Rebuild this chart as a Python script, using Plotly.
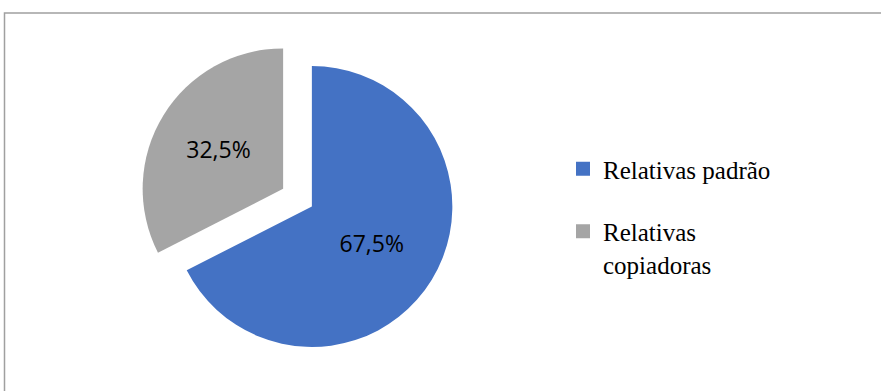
import plotly.graph_objects as go

# Share of relatives by type
labels = ["Relativas padrão", "Relativas<br>copiadoras"]
values = [67.5, 32.5]
colors = ["#4472C4", "#A5A5A5"]
pulls = [0, 0.24]

W, H = 881, 391

fig = go.Figure()

fig.add_trace(
    go.Pie(
        labels=labels,
        values=values,
        sort=False,
        direction="clockwise",
        rotation=0,
        pull=pulls,
        marker=dict(colors=colors, line=dict(width=0)),
        texttemplate="%{percent:.1%}",
        textposition="inside",
        insidetextorientation="horizontal",
        textfont=dict(family="Open Sans", size=23, color="#000000"),
        domain=dict(x=[0.144, 0.564], y=[0.0264, 0.9174]),
        hoverinfo="label+percent",
        showlegend=False,
    )
)

# Legend entries (square swatches), one group per slice so they can be spaced apart
for i, (lab, col) in enumerate(zip(labels, colors)):
    fig.add_trace(
        go.Scatter(
            x=[None], y=[None], mode="markers", name=lab,
            marker=dict(symbol="square", size=14, color=col),
            legendgroup=f"g{i}", showlegend=True, hoverinfo="skip",
        )
    )

# Chart-area frame
fig.add_shape(
    type="rect", xref="paper", yref="paper",
    x0=4.5 / W, x1=1.02, y0=-0.02, y1=1 - 13 / H,
    line=dict(color="#A0A0A0", width=1.5),
    fillcolor="rgba(0,0,0,0)",
)

fig.update_layout(
    width=W, height=H,
    margin=dict(l=0, r=0, t=0, b=0),
    paper_bgcolor="white",
    plot_bgcolor="white",
    separators=",.",
    uniformtext=dict(minsize=23, mode="show"),
    xaxis=dict(visible=False),
    yaxis=dict(visible=False),
    showlegend=True,
    legend=dict(
        x=563 / W, xanchor="left",
        y=1 - 146 / H, yanchor="top",
        valign="top",
        font=dict(family="Liberation Serif", size=25, color="#000000"),
        bgcolor="rgba(0,0,0,0)",
        tracegroupgap=27,
        itemsizing="trace",
    ),
)

fig.write_html("out.html")
